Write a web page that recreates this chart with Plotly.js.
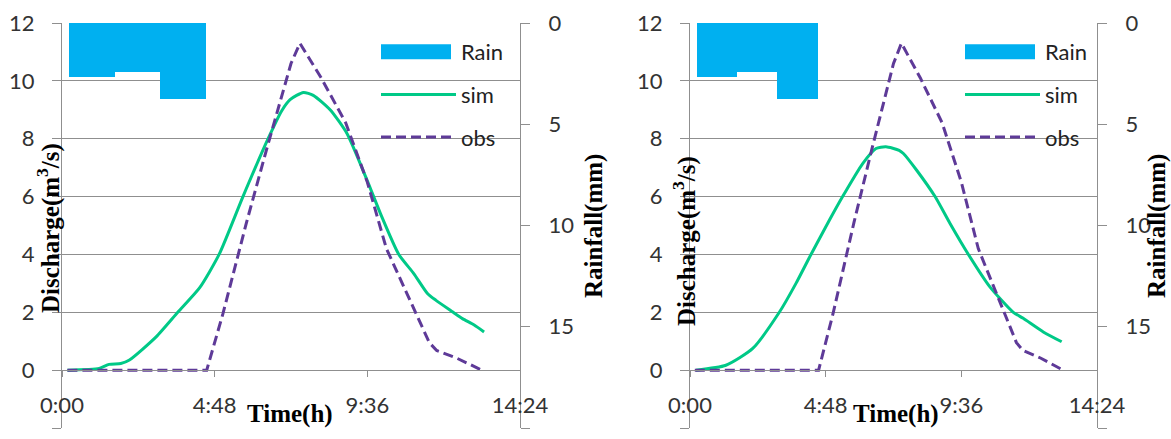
<!DOCTYPE html>
<html>
<head>
<meta charset="utf-8">
<script src="https://cdn.plot.ly/plotly-3.0.1.min.js"></script>
<style>html,body{margin:0;padding:0;background:#fff;}#chart{width:1171px;height:439px;}</style>
</head>
<body>
<div id="chart"></div>
<script>
// ---- data (hours, m3/s, mm) ----
const rainTime = [0.95, 2.38, 3.80];
const rainMm = [2.67, 2.42, 3.75];

const obsTime = [0.17, 4.55, 5.06, 5.80, 6.45, 7.20, 7.48, 8.15, 8.92, 9.60, 10.20, 10.65, 11.10, 11.55, 11.78, 12.40, 13.20];
const obsQ    = [0.00, 0.00, 1.95, 5.10, 7.70, 10.60, 11.30, 10.10, 8.55, 6.50, 4.20, 3.10, 2.00, 0.95, 0.68, 0.42, 0.00];

const sim1Time = [0.17, 1.17, 1.48, 1.85, 2.12, 2.96, 3.64, 4.33, 4.94, 5.69, 6.48, 6.90, 7.17, 7.59, 7.90, 8.43, 8.96, 9.59, 10.01, 10.59, 11.06, 11.49, 11.75, 12.30, 12.59, 12.96, 13.27];
const sim1Q    = [0.00, 0.06, 0.20, 0.23, 0.35, 1.15, 2.00, 2.85, 4.00, 6.00, 8.00, 8.95, 9.35, 9.60, 9.50, 9.00, 8.18, 6.57, 5.42, 4.00, 3.34, 2.65, 2.42, 2.00, 1.78, 1.56, 1.32];

const sim2Time = [0.21, 1.27, 2.22, 3.16, 3.75, 4.28, 4.93, 5.40, 6.11, 6.58, 6.93, 7.40, 7.55, 8.02, 8.67, 9.20, 9.85, 10.61, 11.44, 11.79, 12.50, 13.15];
const sim2Q    = [0.00, 0.17, 0.75, 2.00, 3.00, 4.00, 5.18, 6.00, 7.14, 7.66, 7.72, 7.60, 7.49, 6.91, 6.00, 5.07, 4.00, 2.88, 2.00, 1.79, 1.32, 0.98];

const timeTickVals = [0, 4.8, 9.6, 14.4];
const timeTickText = ['0:00', '4:48', '9:36', '14:24'];
const qTicks = [-2, 0, 2, 4, 6, 8, 10, 12];
const rainTicks = [0, 5, 10, 15, 20];

// ---- styles ----
const W = 1171, H = 439;
const RAIN_COLOR = '#00B0F0';
const SIM_COLOR = '#00C987';
const OBS_COLOR = '#5E3A98';
const GRID = '#8f8f8f';
const TICKFONT = {family: 'Lato, "Noto Sans", sans-serif', size: 22, color: '#333'};
const TITLEFONT = {family: '"Liberation Serif", "DejaVu Serif", serif', size: 25, color: '#000'};

const yDom = [1 - 428 / H, 1 - 23 / H];
const xPos0 = 1 - 370 / H;

function xAx(dom) {
  return {domain: dom, range: [0, 14.4], anchor: 'free', position: xPos0,
    tickvals: timeTickVals, ticktext: timeTickText, ticks: 'outside', ticklen: 6,
    tickcolor: GRID, showline: true, linecolor: GRID, linewidth: 1, showgrid: false,
    zeroline: false, tickfont: TICKFONT, ticklabelstandoff: 10, automargin: false};
}
function qAx(xname) {
  return {domain: yDom, range: [-2, 12], tickvals: qTicks, anchor: xname, side: 'left',
    ticks: 'outside', ticklen: 9, tickcolor: GRID, showline: true, linecolor: GRID,
    showgrid: true, gridcolor: GRID, gridwidth: 1, zeroline: false, tickfont: TICKFONT,
    ticklabelstandoff: 13, automargin: false};
}
function rAx(xname, over) {
  return {domain: yDom, range: [20, 0], tickvals: rainTicks, anchor: xname, side: 'right',
    overlaying: over, ticks: 'outside', ticklen: 9, tickcolor: GRID, showline: true,
    linecolor: GRID, showgrid: false, zeroline: false, tickfont: TICKFONT,
    ticklabelstandoff: 14, automargin: false};
}

const traces = [];
function addChart(xa, ya, ra, simT, simQ, leg) {
  traces.push({type: 'bar', x: rainTime, y: rainMm, width: 1.43, xaxis: xa, yaxis: ra,
    name: 'Rain', marker: {color: RAIN_COLOR, line: {width: 0}}, legend: leg, legendgroup: 'a' + leg, hoverinfo: 'skip'});
  traces.push({type: 'scatter', mode: 'lines', x: simT, y: simQ, xaxis: xa, yaxis: ya,
    name: 'sim', line: {color: SIM_COLOR, width: 3, shape: 'spline', smoothing: 0.6}, legend: leg, legendgroup: 'b' + leg});
  traces.push({type: 'scatter', mode: 'lines', x: obsTime, y: obsQ, xaxis: xa, yaxis: ya,
    name: 'obs', line: {color: OBS_COLOR, width: 3, dash: '10px,5px'}, legend: leg, legendgroup: 'c' + leg});
}
addChart('x', 'y', 'y2', sim1Time, sim1Q, 'legend');
addChart('x2', 'y3', 'y4', sim2Time, sim2Q, 'legend2');

function legendCfg(xpx) {
  return {x: xpx / W, y: 1 - 31 / H, xanchor: 'left', yanchor: 'top', bgcolor: 'rgba(0,0,0,0)',
    font: {family: 'Lato, "Noto Sans", sans-serif', size: 22, color: '#222'},
    itemwidth: 75, traceorder: 'grouped', tracegroupgap: 11, borderwidth: 0};
}

function ann(text, xpx, ypx, angle) {
  return {text: '<b>' + text + '</b>', x: xpx / W, y: 1 - ypx / H, xref: 'paper', yref: 'paper',
    xanchor: 'center', yanchor: 'middle', showarrow: false, textangle: angle, font: TITLEFONT};
}

const layout = {
  width: W, height: H, margin: {l: 0, r: 0, t: 0, b: 0, pad: 0},
  paper_bgcolor: '#fff', plot_bgcolor: 'rgba(0,0,0,0)', barmode: 'overlay', bargap: 0,
  xaxis: xAx([62 / W, 520 / W]),
  xaxis2: xAx([690 / W, 1097 / W]),
  yaxis: qAx('x'),
  yaxis2: rAx('x', 'y'),
  yaxis3: qAx('x2'),
  yaxis4: rAx('x2', 'y3'),
  showlegend: true,
  legend: legendCfg(376),
  legend2: legendCfg(960),
  annotations: [
    ann('Discharge(m<sup>3</sup>/s)', 48, 228, -90),
    ann('Discharge(m<sup>3</sup>/s)', 684, 241, -90),
    ann('Rainfall(mm)', 594, 226, -90),
    ann('Rainfall(mm)', 1157, 226, -90),
    ann('Time(h)', 290, 414, 0),
    ann('Time(h)', 896, 414, 0)
  ]
};

// Widen the bar legend swatch so it spans the same width as the line swatches.
function widenBarSwatches() {
  const gd = document.getElementById('chart');
  const items = gd.querySelectorAll('g.traces');
  items.forEach(function (item) {
    const bars = item.querySelectorAll('g.legendpoints path');
    if (!bars.length) return;
    // find a sibling legend item in the same legend that has a line
    const legendRoot = item.parentNode;
    let lineEl = null;
    legendRoot.querySelectorAll('g.traces').forEach(function (it) {
      if (!lineEl) {
        const l = it.querySelector('g.legendlines path');
        if (l && l.getAttribute('d')) lineEl = l;
      }
    });
    let x0 = 5, x1 = 75;
    if (lineEl) {
      try { const bb = lineEl.getBBox(); if (bb.width > 0) { x0 = bb.x; x1 = bb.x + bb.width; } } catch (e) {}
    }
    bars.forEach(function (p) {
      p.setAttribute('transform', 'translate(0,0)');
      p.setAttribute('d', 'M' + x0 + ',-7.5H' + x1 + 'V7.5H' + x0 + 'Z');
    });
  });
}

const gdEl = document.getElementById('chart');
Plotly.newPlot(gdEl, traces, layout, {staticPlot: true, displayModeBar: false}).then(function () {
  widenBarSwatches();
  gdEl.on && gdEl.on('plotly_afterplot', widenBarSwatches);
  [30, 150, 400, 900].forEach(function (t) { setTimeout(widenBarSwatches, t); });
});
</script>
</body>
</html>
